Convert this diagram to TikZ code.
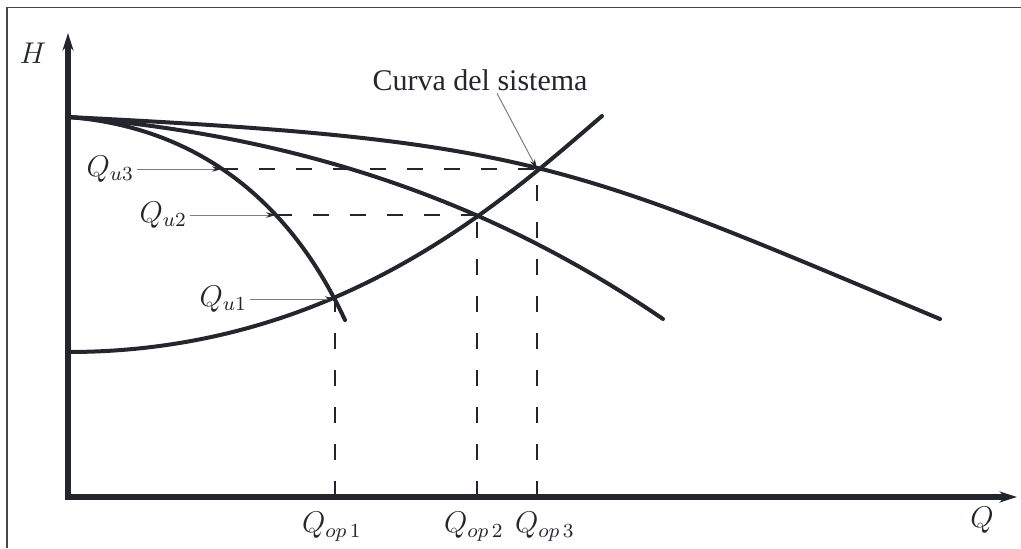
\documentclass[tikz,border=0pt]{standalone}
\usepackage{fontspec}
\setmainfont{Liberation Serif}
\usepackage{tikz}
\usetikzlibrary{arrows.meta, calc}
\definecolor{ink}{RGB}{35,39,45}
\definecolor{leadgray}{RGB}{125,125,125}
\tikzstyle{frame} = [line width=0.5pt, draw=ink!85]
\tikzstyle{axis} = [line width=2.4pt, draw=ink, {Stealth[length=7pt,width=4.4pt]}-{Stealth[length=7pt,width=4.4pt]}]
\tikzstyle{curve} = [line width=1.6pt, draw=ink, line cap=round]
\tikzstyle{dashline} = [line width=0.8pt, draw=ink, dash pattern=on 6.4pt off 8.4pt]
\tikzstyle{arrow} = [line width=0.4pt, draw=leadgray, -{Stealth[length=4pt,width=2.2pt,color=ink]}]
\tikzstyle{lbl} = [font=\fontsize{12}{14}\selectfont, text=ink, inner sep=1pt]

\begin{document}
\begin{tikzpicture}[x=0.4pt, y=-0.4pt]
        \useasboundingbox (0,0) rectangle (1021,548);
        \draw [frame] (7,548) -- (7,7.5) -- (1021,7.5);
        % axes
        \draw [axis] (68,33) -- (68,497) -- (1017,497);
        \node (hlab) [lbl] at (33,53) {$H$};
        \node (qlab) [lbl] at (982,520) {$Q$};
        % points
        \coordinate (h0) at (68,117);
        \coordinate (op1) at (335,299);
        \coordinate (op2) at (477,215);
        \coordinate (op3) at (537,169);
        \coordinate (u2) at (276,215);
        \coordinate (u3) at (222,169);
        \coordinate (f1) at (335,497);
        \coordinate (f2) at (477,497);
        \coordinate (f3) at (537,497);
        \draw [dashline] (f1) -- (op1);
        \draw [dashline] (f2) -- (op2);
        \draw [dashline] (f3) -- (op3);
        \draw [dashline] (u2) -- (op2);
        \draw [dashline] (u3) -- (op3);
        % pump curves
        \draw [curve] (h0) .. controls (249,131) and (320,267) .. (345,320);
        \draw [curve] (h0) .. controls (332,138) and (518,220) .. (663,319);
        \draw [curve] (h0) .. controls (531,140) and (568,163) .. (940,319);
        % system curve
        \draw [curve] (68,352) .. controls (339,352) and (505,199) .. (602,116);
        % labels
        \node (qu3) [lbl, anchor=east] at (137,169) {$Q_{u3}$};
        \node (qu2) [lbl, anchor=east] at (190,215) {$Q_{u2}$};
        \node (qu1) [lbl, anchor=east] at (250,299) {$Q_{u1}$};
        \node (qop1) [lbl, anchor=north] at (332,509) {$Q_{op\,1}$};
        \node (qop2) [lbl, anchor=north] at (474,509) {$Q_{op\,2}$};
        \node (qop3) [lbl, anchor=north] at (545,509) {$Q_{op\,3}$};
        \node (curva) [lbl, anchor=base] at (480,90) {Curva del sistema};
        \draw [arrow] (qu3.east) -- (u3);
        \draw [arrow] (qu2.east) -- (u2);
        \draw [arrow] (qu1.east) -- (op1);
        \draw [arrow] ($(curva.south)+(17,0)$) -- (op3);

    \end{tikzpicture}
\end{document}
